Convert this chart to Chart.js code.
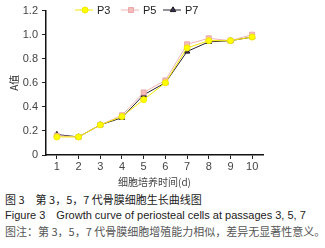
<!DOCTYPE html>
<html>
<head>
<meta charset="utf-8">
<script src="https://cdn.jsdelivr.net/npm/chart.js@4"></script>
<style>
  html, body { margin: 0; padding: 0; background: #fff; }
  #wrap { position: relative; width: 325px; height: 188px; margin-bottom: 3px; }
  .cap { font-family: "Noto Sans CJK SC", "Liberation Sans", sans-serif; font-size: 11px; line-height: 16px; color: #222; padding-left: 5px; white-space: nowrap; }
  .en { font-family: "Liberation Sans", Arial, sans-serif; }
  .note { color: #555; }
</style>
</head>
<body>
<div id="wrap"><canvas id="growth"></canvas></div>
<div class="cap">图 3　第 3，5，7 代骨膜细胞生长曲线图</div>
<div class="cap en">Figure 3　Growth curve of periosteal cells at passages 3, 5, 7</div>
<div class="cap note">图注：第 3，5，7 代骨膜细胞增殖能力相似，差异无显著性意义。</div>
<script>
var days = ['1', '2', '3', '4', '5', '6', '7', '8', '9', '10'];
var p3 = [0.15, 0.15, 0.25, 0.32, 0.46, 0.60, 0.89, 0.95, 0.95, 0.98];
var p5 = [0.16, 0.15, 0.25, 0.33, 0.52, 0.62, 0.92, 0.97, 0.95, 1.00];
var p7 = [0.17, 0.15, 0.25, 0.31, 0.50, 0.60, 0.86, 0.94, 0.95, 0.98];
var yTicks = [0, 0.2, 0.4, 0.6, 0.8, 1.0, 1.2];

// legend drawn by hand: line with marker, like the original figure
var lineLegend = {
    id: 'lineLegend',
    afterDraw: function (chart) {
        var ctx = chart.ctx;
        var x = 75, y = 10;
        ctx.save();
        ctx.font = '11px "Liberation Sans", Arial, sans-serif';
        ctx.textBaseline = 'middle';
        chart.data.datasets.forEach(function (ds) {
            ctx.strokeStyle = ds.borderColor;
            ctx.lineWidth = 1;
            ctx.beginPath();
            ctx.moveTo(x, y);
            ctx.lineTo(x + 18, y);
            ctx.stroke();
            ctx.fillStyle = ds.pointBackgroundColor;
            ctx.strokeStyle = ds.pointBorderColor;
            Chart.helpers.drawPoint(ctx, {
                pointStyle: ds.pointStyle,
                radius: ds.pointRadius,
                borderWidth: 1
            }, x + 10, y);
            ctx.fillStyle = '#222';
            ctx.fillText(ds.label, x + 22, y + 1);
            x += ds.label === 'P5' ? 42 : 46;
        });
        ctx.restore();
    }
};

new Chart(document.getElementById('growth'), {
    type: 'line',
    data: {
        labels: days,
        datasets: [
            {
                label: 'P3', data: p3,
                borderColor: '#f2e600', backgroundColor: '#ffff00',
                pointBackgroundColor: '#ffff00', pointBorderColor: '#f2e600',
                pointStyle: 'circle', pointRadius: 3, borderWidth: 1
            },
            {
                label: 'P5', data: p5,
                borderColor: '#f0b4b4', backgroundColor: '#f5bcbc',
                pointBackgroundColor: '#f5bcbc', pointBorderColor: '#eaa8a8',
                pointStyle: 'rect', pointRadius: 3.5, borderWidth: 1
            },
            {
                label: 'P7', data: p7,
                borderColor: '#2a2233', backgroundColor: '#1a1a1a',
                pointBackgroundColor: '#3d2f55', pointBorderColor: '#1a1a1a',
                pointStyle: 'triangle', pointRadius: 3.2, borderWidth: 1
            }
        ]
    },
    options: {
        responsive: true,
        maintainAspectRatio: false,
        animation: false,
        layout: { padding: { top: 7, right: 62, left: 2, bottom: 0 } },
        plugins: {
            legend: { display: false },
            tooltip: { enabled: false }
        },
        scales: {
            x: {
                offset: true,
                afterFit: function (axis) { axis.height = 33; },
                grid: { drawOnChartArea: false, drawTicks: true, tickLength: 4, color: '#222' },
                border: { color: '#111', width: 1.5 },
                ticks: { color: '#444', font: { size: 11, family: '"Liberation Sans", Arial, sans-serif' }, padding: 1, maxRotation: 0 },
                title: { display: true, text: '细胞培养时间(d)', color: '#444', font: { size: 10, family: '"Noto Sans CJK SC", sans-serif' }, padding: { top: 0, bottom: 0 } }
            },
            y: {
                min: 0, max: 1.2,
                afterFit: function (axis) { axis.width = 44; },
                afterBuildTicks: function (axis) {
                    axis.ticks = yTicks.map(function (v) { return { value: v }; });
                },
                grid: { drawOnChartArea: false, drawTicks: true, tickLength: 4, color: '#222' },
                border: { color: '#111', width: 1.5 },
                ticks: {
                    color: '#444', padding: 4,
                    font: { size: 11, family: '"Liberation Sans", Arial, sans-serif' },
                    callback: function (v) { return v === 0 ? '0' : v.toFixed(1); }
                },
                title: { display: true, text: 'A值', color: '#333', font: { size: 10, family: '"Noto Sans CJK SC", sans-serif' }, padding: { top: 6, bottom: 0 } }
            }
        }
    },
    plugins: [lineLegend]
});
</script>
</body>
</html>
